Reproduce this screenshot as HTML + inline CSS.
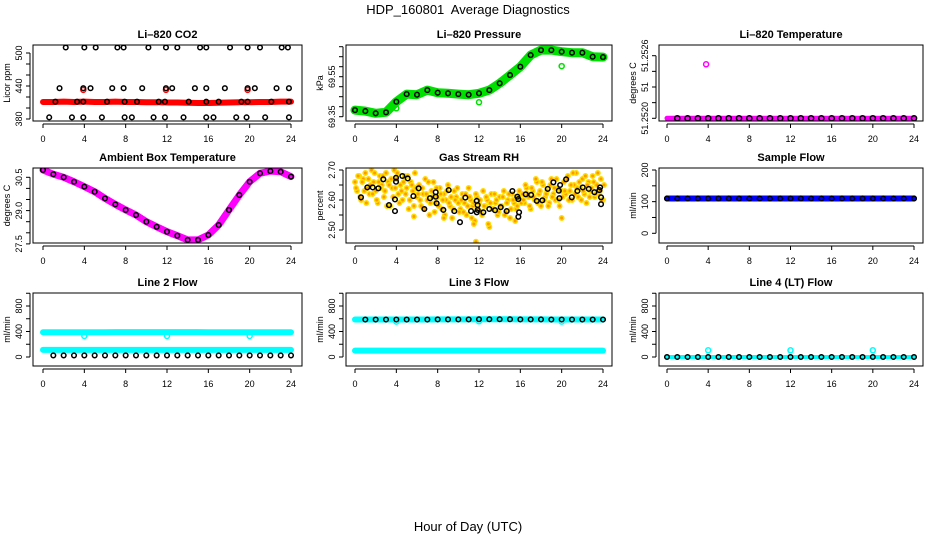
<!DOCTYPE html>
<html><head><meta charset="utf-8"><style>
html,body{margin:0;padding:0;background:#fff;}
svg{display:block;font-family:"Liberation Sans",sans-serif;}
</style></head><body>
<svg id="c" width="936" height="540" viewBox="0 0 936 540">
<text x="468" y="14" text-anchor="middle" font-size="13">HDP_160801&#160; Average Diagnostics</text>
<text x="468" y="531" text-anchor="middle" font-size="13">Hour of Day (UTC)</text>
</svg>
<script>
const hourly = [0,1,2,3,4,5,6,7,8,9,10,11,12,13,14,15,16,17,18,19,20,21,22,23,24];
const xTicks = [0,4,8,12,16,20,24];
const co2Band = [411,411,411.5,411,411.5,411,411,411.5,411,411,410.5,410.5,410,410,409.5,409,409,409.5,410,410.5,410.5,411,411,411.5,411.5];
const co2TopH = [2.2,4.0,5.1,7.2,7.8,10.2,11.9,13.0,15.2,15.8,18.1,19.8,21.0,23.1,23.7];
const co2MidH = [1.6,3.9,4.6,6.7,7.8,9.6,11.9,12.5,14.7,15.8,17.6,19.8,20.5,22.6,23.8];
const co2LowH = [0.6,2.8,3.9,5.7,7.9,8.6,10.7,11.8,13.6,15.8,16.5,18.7,19.7,21.5,23.8];
const co2BaseH = [1.2,3.3,3.9,6.2,7.9,9.1,11.2,11.8,14.1,15.8,17.0,19.2,19.8,22.1,23.8];
const co2Levels = [510,436,383,411.5];
const co2RedOutH = [3.9,11.9,19.8];
const co2RedOutV = [433,433,433];
const pres = [69.383,69.378,69.367,69.372,69.425,69.463,69.46,69.483,69.47,69.467,69.463,69.46,69.467,69.483,69.517,69.558,69.60,69.658,69.683,69.683,69.675,69.67,69.67,69.65,69.648];
const presOutH = [4.0,12.0,20.0];
const presOutV = [69.392,69.422,69.603];
const tempV = [51.2520,51.2520,51.2520,51.2520,51.2520,51.2520,51.2520,51.2520,51.2520,51.2520,51.2520,51.2520,51.2520,51.2520,51.2520,51.2520,51.2520,51.2520,51.2520,51.2520,51.2520,51.2520,51.2520,51.2520,51.2520];
const tempOutH = [3.8];
const tempOutV = [51.25269];
const ambient = [30.83,30.64,30.5,30.30,30.08,29.85,29.55,29.28,29.03,28.80,28.50,28.27,28.05,27.87,27.68,27.68,27.90,28.35,29.03,29.70,30.30,30.68,30.78,30.75,30.53];
const rhA = [2.66,2.63,2.68,2.60,2.67,2.69,2.64,2.62,2.70,2.66,2.63,2.59,2.68,2.65,2.61,2.69,2.66,2.58,2.64,2.70,2.67,2.62,2.65,2.60,2.68,2.64,2.57,2.66,2.63,2.69,2.61,
 2.65,2.58,2.62,2.67,2.60,2.55,2.63,2.66,2.59,2.61,2.64,2.57,2.62,2.60,2.65,2.58,2.54,2.63,2.61,2.59,
 2.57,2.62,2.59,2.55,2.64,2.60,2.58,2.53,2.61,2.59,2.56,2.63,2.58,2.60,2.51,2.62,2.57,2.59,2.55,2.61,2.58,2.63,2.56,2.60,2.54,2.62,2.59,2.57,2.61,2.60,
 2.62,2.59,2.64,2.61,2.57,2.63,2.60,2.66,2.62,2.58,2.65,2.61,2.63,2.59,2.67,2.62,2.60,2.64,2.58,2.63,
 2.66,2.62,2.68,2.63,2.60,2.65,2.69,2.61,2.64,2.67,2.62,2.59,2.66,2.63,2.68,2.61,2.65,2.62,2.67,2.60];
const rhB = [2.64,2.68,2.61,2.66,2.63,2.59,2.67,2.65,2.62,2.69,2.60,2.66,2.64,2.68,2.63,2.58,2.65,2.67,2.61,2.64,2.69,2.59,2.63,2.66,2.62,2.68,2.60,2.65,2.58,2.64,2.62,
 2.60,2.64,2.57,2.62,2.66,2.59,2.61,2.56,2.64,2.58,2.62,2.60,2.55,2.63,2.59,2.61,2.57,2.60,2.64,2.56,
 2.60,2.56,2.62,2.58,2.61,2.54,2.59,2.62,2.57,2.60,2.55,2.58,2.61,2.52,2.59,2.57,2.62,2.60,2.56,2.58,2.61,2.55,2.59,2.62,2.57,2.60,2.53,2.58,2.63,2.59,
 2.60,2.65,2.62,2.58,2.64,2.61,2.67,2.59,2.63,2.66,2.60,2.62,2.58,2.65,2.61,2.64,2.67,2.60,2.63,2.61,
 2.63,2.67,2.60,2.65,2.69,2.62,2.64,2.66,2.60,2.63,2.68,2.65,2.61,2.64,2.66,2.62,2.69,2.63,2.60,2.65];
const rhOutH = [11.7,11.5,5.7,8.6,20.0];
const rhOutV = [2.461,2.52,2.545,2.54,2.54];
const rhBlackH = [0.58,1.19,1.71,2.26,2.74,3.29,3.87,3.87,3.97,3.97,4.58,5.1,5.65,6.16,6.71,7.26,7.81,7.81,7.9,8.55,9.07,9.61,10.16,10.68,11.23,11.78,11.78,11.87,11.87,12.42,13.0,13.55,14.1,14.68,15.23,15.71,15.81,15.88,15.81,16.52,17.04,17.59,18.13,18.65,19.2,19.72,19.78,19.85,20.43,20.98,21.52,22.04,22.62,23.17,23.65,23.72,23.81,23.81];
const rhBlackV = [2.609,2.642,2.642,2.639,2.669,2.583,2.563,2.602,2.661,2.674,2.68,2.672,2.613,2.639,2.57,2.606,2.611,2.626,2.589,2.567,2.633,2.563,2.526,2.608,2.563,2.559,2.597,2.583,2.567,2.559,2.57,2.566,2.576,2.563,2.63,2.611,2.603,2.559,2.544,2.619,2.617,2.597,2.599,2.637,2.659,2.631,2.606,2.65,2.669,2.609,2.63,2.642,2.637,2.626,2.633,2.642,2.609,2.586];
const sampleFlow = [110,110,110,110,110,110,110,110,110,110,110,110,110,110,110,110,110,110,110,110,110,110,110,110,110];
const line2High = [388,388,388,388,388,388,388,390,390,390,390,390,390,390,390,390,388,388,388,388,388,388,388,388,388];
const line2Low = [112,112,112,112,112,112,112,112,112,112,112,112,112,112,112,112,112,112,112,112,112,112,112,112,112];
const line2Black = [25,25,25,25,25,25,25,25,25,25,25,25,25,25,25,25,25,25,25,25,25,25,25,25,25];
const line2DipH = [4,12,20];
const line2DipV = [330,330,330];
const line3High = [588,588,588,588,588,588,588,588,590,590,590,590,592,592,592,592,590,590,590,588,588,588,588,588,588];
const line3Low = [100,100,100,100,100,100,100,100,100,100,100,100,100,100,100,100,100,100,100,100,100,100,100,100,100];
const line3DipH = [4,12,20];
const line3DipV = [555,560,555];
const line4Zero = [0,0,0,0,0,0,0,0,0,0,0,0,0,0,0,0,0,0,0,0,0,0,0,0,0];
const line4SpikeH = [4,12,20];
const line4SpikeV = [105,105,105];
const rhGridH = rhA.map((v,i)=>i/5);

const NS="http://www.w3.org/2000/svg";
const svg=document.getElementById('c');
const cols=[{l:33,r:302,x0:43,x24:291},{l:346,r:612,x0:355,x24:603},{l:659,r:923,x0:667,x24:914}];
const rows=[{t:45,b:121},{t:168,b:243},{t:293,b:366}];
function mk(tag,attrs,parent){const e=document.createElementNS(NS,tag);for(const k in attrs)e.setAttribute(k,attrs[k]);(parent||svg).appendChild(e);return e;}

function panel(ci,ri,name,title,ylab,yTickVals,yTickLabels,yf){
  const c=cols[ci],r=rows[ri];
  const g=mk('g',{});
  
  
  const xs=h=>c.x0+(c.x24-c.x0)*h/24;
  const clipId='clip-'+name;
  const cp=mk('clipPath',{id:clipId},g);
  mk('rect',{x:c.l,y:r.t,width:c.r-c.l,height:r.b-r.t},cp);
  const tt=mk('text',{x:(c.l+c.r)/2,y:r.t-7,'text-anchor':'middle','font-size':11,'font-weight':'bold'},g);
  tt.textContent=title;
  
  
  const xa=mk('g',{},g);
  
  
  mk('line',{x1:xs(0),x2:xs(24),y1:r.b+3,y2:r.b+3,stroke:'#000'},xa);
  xTicks.forEach(v=>{
    mk('line',{x1:xs(v),x2:xs(v),y1:r.b+3,y2:r.b+7,stroke:'#000'},xa);
    const t=mk('text',{x:xs(v),y:r.b+21,'text-anchor':'middle','font-size':9},xa);
    t.textContent=v;
    
    
  });
  const ya=mk('g',{},g);
  
  
  const ys=yTickVals.map(yf);
  mk('line',{x1:c.l-3,x2:c.l-3,y1:Math.min(...ys),y2:Math.max(...ys),stroke:'#000'},ya);
  yTickVals.forEach((v,i)=>{
    const y=yf(v);
    mk('line',{x1:c.l-3,x2:c.l-7,y1:y,y2:y,stroke:'#000'},ya);
    if(yTickLabels[i]){
      const t=mk('text',{x:c.l-11,y:y,'text-anchor':'middle','font-size':9,transform:`rotate(-90 ${c.l-11} ${y})`},ya);
      t.textContent=yTickLabels[i];
      
      
    }
  });
  const yt=mk('text',{x:c.l-23,y:(r.t+r.b)/2,'text-anchor':'middle','font-size':9,transform:`rotate(-90 ${c.l-23} ${(r.t+r.b)/2})`},g);
  yt.textContent=ylab;
  
  
  const marks=mk('g',{'clip-path':`url(#${clipId})`},g);
  
  
  const box=mk('rect',{x:c.l,y:r.t,width:c.r-c.l,height:r.b-r.t,fill:'none',stroke:'#000','stroke-width':1},g);
  
  
  return {g:marks,xs,yf};
}
function band(P,hs,vs,color,w,name){
  const p=hs.map((h,i)=>P.xs(h)+','+P.yf(vs[i])).join(' ');
  const e=mk('polyline',{points:p,fill:'none',stroke:color,'stroke-width':w,'stroke-linecap':'round','stroke-linejoin':'round'},P.g);
  
  
}
function pts(P,hs,vs,stroke,fill,rad,name){
  hs.forEach((h,i)=>{
    const e=mk('circle',{cx:P.xs(h),cy:P.yf(vs[i]),r:rad,fill:fill,stroke:stroke,'stroke-width':1.5},P.g);
    
    
  });
}
const rep=(arr,v)=>arr.map(()=>v);

{const P=panel(0,0,'co2','Li\u2013820 CO2','Licor ppm',[380,400,420,440,460,480,500],['380','','','440','','','500'],v=>119-(v-380)*33/60);
 band(P,hourly,co2Band,'#ff0000',6,'co2-red-band');
 pts(P,co2RedOutH,co2RedOutV,'#ff0000','none',2.5,'co2-red-point');
 pts(P,co2TopH,rep(co2TopH,co2Levels[0]),'#000','none',2.3,'co2-black-point');
 pts(P,co2MidH,rep(co2MidH,co2Levels[1]),'#000','none',2.3,'co2-black-point');
 pts(P,co2LowH,rep(co2LowH,co2Levels[2]),'#000','none',2.3,'co2-black-point');
 pts(P,co2BaseH,rep(co2BaseH,co2Levels[3]),'#000','none',2.3,'co2-black-point');}
{const P=panel(1,0,'pressure','Li\u2013820 Pressure','kPa',[69.35,69.40,69.45,69.50,69.55,69.60,69.65,69.70],['69.35','','','','69.55','','',''],v=>116.7-(v-69.35)*200);
 band(P,hourly,pres,'#00e000',9,'pressure-green-band');
 pts(P,presOutH,presOutV,'#00e000','none',2.5,'pressure-green-point');
 pts(P,hourly,pres,'#000','none',2.3,'pressure-black-point');}
{const P=panel(2,0,'li820-temp','Li\u2013820 Temperature','degrees C',[51.2520,51.2522,51.2524,51.2526,51.2528],['51.2520','','51','','51.2526'],v=>118.3-(v-51.2520)/0.0002*15.65);
 band(P,hourly,tempV,'#ff00ff',5,'li820-temp-magenta-band');
 pts(P,tempOutH,tempOutV,'#ff00ff','none',2.5,'li820-temp-outlier');
 pts(P,hourly.slice(1),tempV.slice(1),'#000','none',2.6,'li820-temp-black-point');}
{const P=panel(0,1,'ambient','Ambient Box Temperature','degrees C',[30.5,30.0,29.5,29.0,28.5,28.0,27.5],['30.5','','','29.0','','','27.5'],v=>177.3+(30.5-v)*22.2);
 band(P,hourly,ambient,'#ff00ff',7,'ambient-magenta-band');
 pts(P,hourly,ambient,'#000','none',2.3,'ambient-black-point');}
{const P=panel(1,1,'rh','Gas Stream RH','percent',[2.50,2.55,2.60,2.65,2.70],['2.50','','2.60','','2.70'],v=>170+(2.70-v)*300);
 pts(P,rhGridH,rhA,'#ffdd00','#ff9900',2.2,'rh-orange-point');
 pts(P,rhGridH.map(h=>h+0.1),rhB,'#ffdd00','#ff9900',2.2,'rh-orange-point');
 pts(P,rhOutH,rhOutV,'#ffdd00','#ff9900',2.2,'rh-orange-point');
 pts(P,rhBlackH,rhBlackV,'#000','none',2.3,'rh-black-point');}
{const P=panel(2,1,'sample-flow','Sample Flow','ml/min',[0,50,100,150,200],['0','','100','','200'],v=>233.3-v*0.3165);
 band(P,hourly,sampleFlow,'#0000ff',6,'sample-flow-blue-band');
 pts(P,hourly,sampleFlow,'#000','none',2.3,'sample-flow-black-point');}
const fy=v=>357-v*0.06375;
const fTicks=[0,200,400,600,800,1000], fLabels=['0','','400','','800',''];
{const P=panel(0,2,'line2-flow','Line 2 Flow','ml/min',fTicks,fLabels,fy);
 band(P,hourly,line2High,'#00ffff',6,'line2-cyan-high');
 band(P,hourly,line2Low,'#00ffff',6,'line2-cyan-low');
 pts(P,line2DipH,line2DipV,'#00ffff','none',2.5,'line2-cyan-dip');
 pts(P,hourly.slice(1),line2Black.slice(1),'#000','none',2.3,'line2-black-point');}
{const P=panel(1,2,'line3-flow','Line 3 Flow','ml/min',fTicks,fLabels,fy);
 band(P,hourly,line3High,'#00ffff',6,'line3-cyan-high');
 band(P,hourly,line3Low,'#00ffff',6,'line3-cyan-low');
 pts(P,line3DipH,line3DipV,'#00ffff','none',2.5,'line3-cyan-dip');
 pts(P,hourly.slice(1),line3High.slice(1),'#000','none',2.3,'line3-black-point');}
{const P=panel(2,2,'line4-flow','Line 4 (LT) Flow','ml/min',fTicks,fLabels,fy);
 band(P,hourly,line4Zero,'#00ffff',4,'line4-cyan-band');
 pts(P,line4SpikeH,line4SpikeV,'#00ffff','none',2.5,'line4-cyan-spike');
 pts(P,hourly,line4Zero,'#000','none',2.3,'line4-black-point');}
</script>
</body></html>
